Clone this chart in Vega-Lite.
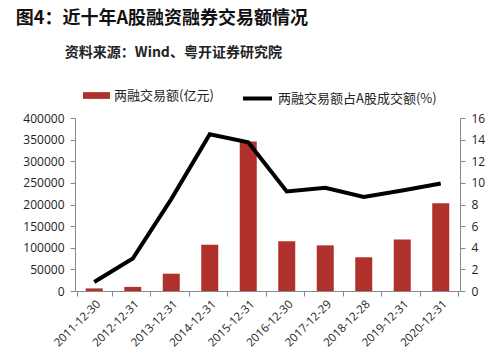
{
  "$schema": "https://vega.github.io/schema/vega-lite/v6.json",
  "width": 499,
  "height": 361,
  "autosize": {"type": "fit", "contains": "padding"},
  "padding": {"left": 15, "right": 14, "top": 10, "bottom": 12},
  "background": "white",
  "title": {
    "text": "图4：近十年A股融资融券交易额情况",
    "subtitle": "\u200b\u3000\u3000\u3000\u2002资料来源：Wind、粤开证券研究院",
    "anchor": "start",
    "frame": "bounds",
    "dx": -7,
    "font": "Noto Sans CJK SC",
    "fontSize": 18,
    "fontWeight": "bold",
    "color": "#111111",
    "subtitleFont": "Noto Sans CJK SC",
    "subtitleFontSize": 14,
    "subtitleFontWeight": "bold",
    "subtitleColor": "#222222",
    "subtitlePadding": 18,
    "offset": 52
  },
  "data": {
    "values": [
      {"date": "2011-12-30", "amount": 6000, "pct": 0.83},
      {"date": "2012-12-31", "amount": 9500, "pct": 3.0},
      {"date": "2013-12-31", "amount": 40000, "pct": 8.5},
      {"date": "2014-12-31", "amount": 107000, "pct": 14.5},
      {"date": "2015-12-31", "amount": 345500, "pct": 13.75},
      {"date": "2016-12-30", "amount": 115000, "pct": 9.2},
      {"date": "2017-12-29", "amount": 105500, "pct": 9.55},
      {"date": "2018-12-28", "amount": 78000, "pct": 8.7},
      {"date": "2019-12-31", "amount": 119000, "pct": 9.3},
      {"date": "2020-12-31", "amount": 203000, "pct": 9.95}
    ]
  },
  "encoding": {
    "x": {
      "field": "date",
      "type": "nominal",
      "sort": null,
      "title": null,
      "axis": {
        "labelAngle": -45,
        "tickBand": "extent",
        "labelFont": "Open Sans",
        "labelFontSize": 11.5,
        "labelColor": "#222222",
        "domainColor": "#888888",
        "tickColor": "#888888",
        "labelPadding": 2
      }
    }
  },
  "layer": [
    {
      "mark": {"type": "bar", "size": 17},
      "encoding": {
        "y": {
          "field": "amount",
          "type": "quantitative",
          "title": null,
          "scale": {"domain": [0, 400000], "nice": false},
          "axis": {
            "values": [0, 50000, 100000, 150000, 200000, 250000, 300000, 350000, 400000],
            "labelOverlap": false,
            "grid": false,
            "format": "d",
            "labelFont": "Open Sans",
            "labelFontSize": 12,
            "labelColor": "#222222",
            "domainColor": "#888888",
            "tickColor": "#888888",
            "labelPadding": 6
          }
        },
        "fill": {
          "datum": "两融交易额(亿元)",
          "type": "nominal",
          "scale": {"range": ["#b0302b"]},
          "legend": {
            "title": null,
            "orient": "none",
            "legendX": 8,
            "legendY": -36,
            "symbolType": "M-1,-0.25H1V0.25H-1Z",
            "symbolSize": 729,
            "symbolStrokeWidth": 0,
            "labelOffset": 4,
            "labelFont": "Noto Sans CJK SC",
            "labelFontSize": 13,
            "labelColor": "#222222"
          }
        }
      }
    },
    {
      "mark": {"type": "line", "strokeWidth": 4},
      "encoding": {
        "y": {
          "field": "pct",
          "type": "quantitative",
          "title": null,
          "scale": {"domain": [0, 16], "nice": false},
          "axis": {
            "orient": "right",
            "values": [0, 2, 4, 6, 8, 10, 12, 14, 16],
            "labelOverlap": false,
            "grid": false,
            "labelFont": "Open Sans",
            "labelFontSize": 12,
            "labelColor": "#222222",
            "domainColor": "#888888",
            "tickColor": "#888888",
            "labelPadding": 6
          }
        },
        "stroke": {
          "datum": "两融交易额占A股成交额(%)",
          "type": "nominal",
          "scale": {"range": ["#000000"]},
          "legend": {
            "title": null,
            "orient": "none",
            "legendX": 166,
            "legendY": -36,
            "symbolType": "stroke",
            "symbolStrokeWidth": 4,
            "symbolSize": 841,
            "labelOffset": 4,
            "labelFont": "Noto Sans CJK SC",
            "labelFontSize": 13,
            "labelColor": "#222222"
          }
        }
      }
    }
  ],
  "resolve": {"scale": {"y": "independent"}},
  "config": {"view": {"stroke": null}}
}
